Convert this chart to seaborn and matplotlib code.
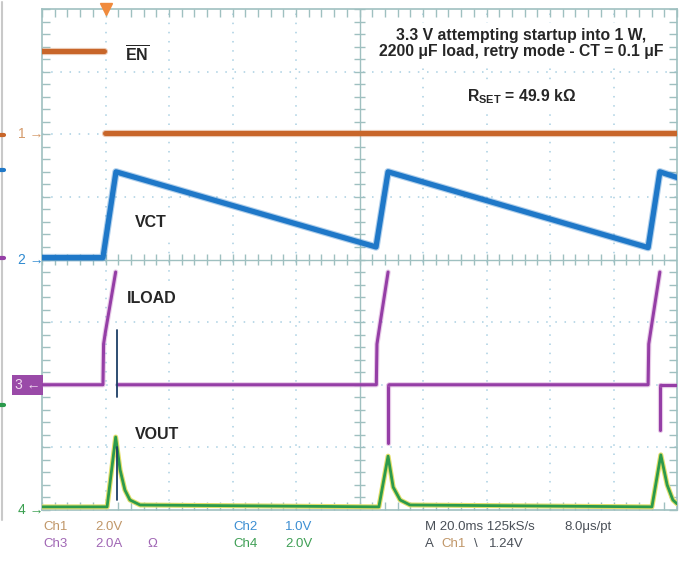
import numpy as np
import pandas as pd
import matplotlib
matplotlib.use("Agg")
import matplotlib.pyplot as plt
import matplotlib.patheffects as pe
from matplotlib.lines import Line2D
import seaborn as sns

# ---- scope settings -------------------------------------------------------
ms_per_div = 20.0
scale_en, scale_vct, scale_iload, scale_vout = 2.0, 1.0, 2.0, 2.0   # V/div, A/div
ground_en, ground_vct, ground_iload, ground_vout = 2.0, 0.0, -2.0, -4.0  # div

# ---- traces (time in ms, value in V or A) ---------------------------------
# EN: high until the trigger, then low (no visible edge)
en_seg = [0, 0, 1, 1]
en_t = [0.0, 19.6, 19.9, 200.0]
en_v = [2.65, 2.65, 0.05, 0.05]

# VCT: timing capacitor ramp (retry cycle)
vct_t = [0.0, 19.2, 23.3, 105.2, 109.0, 190.9, 194.6, 200.0]
vct_v = [0.03, 0.03, 1.40, 0.20, 1.40, 0.19, 1.40, 1.31]

# ILOAD: inrush pulses with negative spikes at turn-off
iload_seg = [0, 0, 0, 0, 0,
             1, 1, 1, 1, 1,
             2, 2,
             3, 3, 3, 3, 3,
             4, 4,
             5, 5]
iload_t = [0.0, 19.2, 19.4, 20.0, 23.2,
           23.9, 105.3, 105.5, 106.1, 109.0,
           109.1, 109.1,
           109.4, 190.9, 191.1, 191.7, 194.6,
           194.8, 194.8,
           195.1, 200.0]
iload_a = [0.0, 0.0, 1.3, 1.7, 3.6,
           0.0, 0.0, 1.3, 1.7, 3.6,
           0.0, -1.85,
           0.0, 0.0, 1.3, 1.7, 3.6,
           0.0, -1.44,
           0.0, 0.0]

# VOUT: output voltage bumps during each attempt
vout_t = [0.0, 20.5, 23.2, 24.6, 26.1, 27.7, 30.9,
          106.1, 109.0, 110.6, 112.8, 115.9,
          192.1, 194.9, 196.9, 198.7, 200.0]
vout_v = [0.10, 0.10, 2.33, 1.28, 0.64, 0.32, 0.16,
          0.10, 1.72, 0.73, 0.32, 0.16,
          0.10, 1.76, 0.80, 0.32, 0.20]

# turn-off transient captured on ILOAD and VOUT during the first attempt
glitch_t = 23.6
glitch_iload = [1.76, -0.38]
glitch_vout = [2.00, 0.32]

# ---- labels -----------------------------------------------------------------
title_lines = ["3.3 V attempting startup into 1 W,",
               "2200 \u03bcF load, retry mode - CT = 0.1 \u03bcF"]
rset_label = "R$_{\\mathbf{SET}}$ = 49.9 k\u03a9"
trace_labels = ["EN", "VCT", "ILOAD", "VOUT"]
readout_row1 = [("Ch1", "2.0V"), ("Ch2", "1.0V")]
readout_row2 = [("Ch3", "2.0A"), ("Ch4", "2.0V")]
timebase_text = "M 20.0ms 125kS/s"
sample_text = "8.0\u03bcs/pt"
trigger_level = "1.24V"

# ---- colours ------------------------------------------------------------------
c_en = "#c8662a"
c_vct = "#1f78c8"
c_iload = "#953ea6"
c_vout = "#2b9a4c"
c_grid = "#a9cfe2"
c_frame = "#9fc0c0"

sns.set_style("white")
plt.rcParams["font.family"] = ["Liberation Sans", "DejaVu Sans"]
plt.rcParams["mathtext.fontset"] = "custom"
plt.rcParams["mathtext.rm"] = "Liberation Sans"
plt.rcParams["mathtext.bf"] = "Liberation Sans:bold"
plt.rcParams["mathtext.it"] = "Liberation Sans:italic"

W, H = 681, 565
fig = plt.figure(figsize=(W / 100, H / 100), dpi=100)
ax = fig.add_axes([42 / W, 55 / H, 635 / W, 501 / H])
ax.set_xlim(0, 10 * ms_per_div)
ax.set_ylim(-4, 4)

# graticule: dotted divisions, ticked centre cross, ticked frame
for k in range(1, 10):
    if k != 5:
        ax.axvline(k * ms_per_div, color=c_grid, lw=1.1, ls=(0, (1, 5)), zorder=0)
for k in range(-3, 4):
    if k != 0:
        ax.axhline(k, color=c_grid, lw=1.1, ls=(0, (1, 5)), zorder=0)
ax.axhline(0, color=c_frame, lw=1.0, zorder=0.5)
ax.axvline(5 * ms_per_div, color=c_frame, lw=1.0, zorder=0.5)
tick_x = np.arange(0, 200.01, ms_per_div / 5)
tick_y = np.arange(-4, 4.01, 0.2)
ax.vlines(tick_x, -0.08, 0.08, color=c_frame, lw=1.0, zorder=0.5)
ax.hlines(tick_y, 100 - 1.6, 100 + 1.6, color=c_frame, lw=1.0, zorder=0.5)
ax.set_xticks(tick_x)
ax.set_yticks(tick_y)
ax.tick_params(direction="in", length=6, width=1.0, colors=c_frame,
               top=True, right=True, bottom=True, left=True,
               labelbottom=False, labelleft=False)
for s in ax.spines.values():
    s.set_color(c_frame)
    s.set_linewidth(1.2)


def to_div(vals, ground, scale):
    return [ground + v / scale for v in vals]


def glow(color, w):
    return [pe.Stroke(linewidth=w + 1.6, foreground=color, alpha=0.35), pe.Normal()]


en_df = pd.DataFrame({"t": en_t, "y": to_div(en_v, ground_en, scale_en), "seg": en_seg})
vct_df = pd.DataFrame({"t": vct_t, "y": to_div(vct_v, ground_vct, scale_vct)})
iload_df = pd.DataFrame({"t": iload_t, "y": to_div(iload_a, ground_iload, scale_iload),
                         "seg": iload_seg})
vout_df = pd.DataFrame({"t": vout_t, "y": to_div(vout_v, ground_vout, scale_vout)})
glitch_df = pd.DataFrame({
    "t": [glitch_t] * 4,
    "y": to_div(glitch_iload, ground_iload, scale_iload) + to_div(glitch_vout, ground_vout, scale_vout),
    "seg": [0, 0, 1, 1]})

sns.lineplot(data=en_df, x="t", y="y", units="seg", estimator=None, sort=False,
             color=c_en, lw=3.6, ax=ax, zorder=3, path_effects=glow(c_en, 3.6))
sns.lineplot(data=vct_df, x="t", y="y", estimator=None, sort=False,
             color=c_vct, lw=3.8, ax=ax, zorder=3, path_effects=glow(c_vct, 3.8))
sns.lineplot(data=vout_df, x="t", y="y", estimator=None, sort=False,
             color="#e2de6a", lw=3.6, ax=ax, zorder=2.8)
sns.lineplot(data=vout_df, x="t", y="y", estimator=None, sort=False,
             color=c_vout, lw=2.0, ax=ax, zorder=3)
sns.lineplot(data=iload_df, x="t", y="y", units="seg", estimator=None, sort=False,
             color=c_iload, lw=2.2, ax=ax, zorder=3.2, path_effects=glow("#c070c0", 2.2))
sns.lineplot(data=glitch_df, x="t", y="y", units="seg", estimator=None, sort=False,
             color="#1d3f66", lw=1.3, ax=ax, zorder=3.4)
ax.set_xlabel("")
ax.set_ylabel("")

# trigger position marker
ax.plot([20.0], [4.0], marker="v", ms=8, color="#f08a3c", clip_on=False, zorder=5)

# annotations on the screen
box = dict(facecolor="white", edgecolor="none", pad=3)
ax.text(29.8, 3.27, r"$\overline{\mathbf{EN}}$", fontsize=11.5, ha="center", va="center",
        bbox=box, zorder=6)
ax.text(34.3, 0.59, trace_labels[1], fontsize=11.5, fontweight="bold", ha="center",
        va="center", bbox=dict(facecolor="white", edgecolor="none", pad=4), zorder=6)
ax.text(34.6, -0.63, trace_labels[2], fontsize=11.5, fontweight="bold", ha="center",
        va="center", bbox=box, zorder=6)
ax.text(36.2, -2.80, trace_labels[3], fontsize=11.5, fontweight="bold", ha="center",
        va="center", bbox=box, zorder=6)
ax.text(150.9, 3.45, "\n".join(title_lines), fontsize=11.3, fontweight="bold",
        ha="center", va="center", linespacing=1.15,
        bbox=dict(facecolor="white", edgecolor="none", pad=3), zorder=6)
ax.text(150.9, 2.60, rset_label, fontsize=11.3, fontweight="bold", ha="center",
        va="center", bbox=dict(facecolor="white", edgecolor="none", pad=5), zorder=6)

# channel ground markers
mk = dict(xycoords=("axes fraction", "data"), textcoords="offset points",
          ha="right", va="center", fontsize=10, annotation_clip=False)
ax.annotate("1 \u2192", xy=(0, ground_en), xytext=(1, 0), color="#d49a6a", **mk)
ax.annotate("2 \u2192", xy=(0, ground_vct), xytext=(1, 0), color="#2f8ad0", **mk)
ax.annotate("3 \u2190", xy=(0, ground_iload), xytext=(-1, 0), color="#f0d8f0",
            bbox=dict(facecolor="#9a4aa8", edgecolor="none", pad=2.0), **mk)
ax.annotate("4 \u2192", xy=(0, ground_vout), xytext=(1, 0), color="#3aa050", **mk)

# neighbouring screen edge on the far left
fig.add_artist(Line2D([2 / W, 2 / W], [1 - 2 / H, 1 - 520 / H], color="#c9c9c9", lw=1.5))
for yy, cc in [(135, c_en), (170, c_vct), (258, c_iload), (405, c_vout)]:
    fig.add_artist(Line2D([0, 4 / W], [1 - yy / H, 1 - yy / H], color=cc, lw=3))

# readout
ro = dict(fontsize=9.5, family=["Liberation Sans Narrow", "Liberation Sans", "DejaVu Sans"],
          va="center", ha="left")
y1, y2 = 1 - 527 / H, 1 - 544 / H
fig.text(43 / W, y1, readout_row1[0][0], color="#c09668", **ro)
fig.text(95 / W, y1, readout_row1[0][1], color="#c09668", **ro)
fig.text(43 / W, y2, readout_row2[0][0], color="#a066b4", **ro)
fig.text(95 / W, y2, readout_row2[0][1], color="#a066b4", **ro)
fig.text(147 / W, y2, "\u03a9", color="#a066b4", **ro)
fig.text(233 / W, y1, readout_row1[1][0], color="#3c8ed2", **ro)
fig.text(285 / W, y1, readout_row1[1][1], color="#3c8ed2", **ro)
fig.text(233 / W, y2, readout_row2[1][0], color="#3f9f55", **ro)
fig.text(285 / W, y2, readout_row2[1][1], color="#3f9f55", **ro)
fig.text(425 / W, y1, timebase_text, color="#4a5058", **ro)
fig.text(564 / W, y1, sample_text, color="#4a5058", **ro)
fig.text(425 / W, y2, "A", color="#4a5058", **ro)
fig.text(441 / W, y2, "Ch1", color="#c09668", **ro)
fig.text(474 / W, y2, "\\", color="#4a5058", **ro)
fig.text(489 / W, y2, trigger_level, color="#4a5058", **ro)

fig.savefig("out.png", dpi=100)
